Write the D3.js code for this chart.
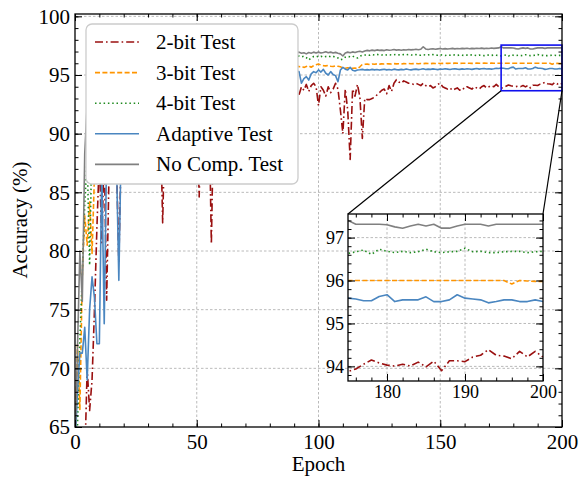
<!DOCTYPE html>
<html lang="en">
<head>
<meta charset="UTF-8">
<title>Accuracy vs Epoch</title>
<script src="https://d3js.org/d3.v7.min.js"></script>
<style>
  body { margin: 0; background: #fff; }
  svg { display: block; font-family: "Liberation Serif", "Times New Roman", serif; }
  .grid line { stroke: #a8a8a8; stroke-width: 0.8; stroke-dasharray: 2.5,2; }
</style>
</head>
<body>
<svg width="584" height="477"></svg>
<script>
// epoch index 0..200
const epochs = d3.range(0, 201);

const twoBit = [
  55.0, 56.0, 58.0, 60.0, 62.0, 70.0, 66.4, 69.0, 75.0, 82.0, 88.0, 80.7, 88.5, 75.8, 87.0, 89.0, 86.5, 88.0, 79.0, 89.0,
  90.0, 89.2, 90.5, 88.6, 90.8, 91.0, 89.9, 91.3, 90.6, 91.5, 91.0, 90.2, 91.8, 91.2, 90.7, 91.9, 82.4, 91.4, 92.0, 91.1,
  92.2, 91.6, 92.4, 91.0, 92.1, 92.6, 91.8, 92.3, 92.7, 91.9, 92.5, 84.6, 92.8, 92.0, 92.6, 92.9, 80.6, 92.3, 92.8, 93.0,
  92.5, 93.1, 92.7, 93.2, 92.4, 93.0, 93.3, 92.8, 93.1, 92.6, 93.4, 92.9, 93.2, 93.5, 92.7, 93.3, 93.0, 93.4, 92.8, 93.5,
  93.1, 93.6, 93.2, 92.9, 93.5, 93.3, 93.7, 93.0, 93.4, 93.6, 93.1, 93.2, 93.3, 94.0, 93.7, 94.2, 93.6, 94.1, 94.3, 94.0,
  92.4, 94.0, 93.7, 93.2, 94.0, 93.5, 93.8, 94.3, 93.8, 92.0, 90.0, 93.8, 92.0, 87.8, 93.8, 93.2, 94.2, 93.1, 89.6, 93.0,
  92.9, 92.9, 93.0, 93.1, 93.3, 93.5, 93.7, 93.8, 93.4, 94.1, 93.6, 94.3, 94.6, 94.4, 94.3, 94.5, 94.4, 94.3, 94.3, 94.2,
  94.3, 94.2, 94.1, 94.3, 94.1, 94.0, 94.1, 93.9, 94.0, 94.2, 94.3, 94.0, 93.9, 93.8, 93.9, 93.7, 93.8, 93.9, 93.7, 93.9,
  93.8, 94.0, 93.9, 93.8, 94.0, 93.9, 93.8, 94.0, 94.1, 93.9, 94.0, 94.1, 94.0, 94.2, 94.0, 93.88, 93.94, 94.05, 94.15, 94.08,
  94.03, 94.01, 94.05, 94.01, 94.10, 93.99, 94.12, 93.90, 94.13, 94.13, 94.11, 94.22, 94.26, 94.39, 94.26, 94.24, 94.18, 94.35, 94.22, 94.35,
  94.22
];

const threeBit = [
  63.0, 72.0, 66.5, 78.0, 83.0, 80.5, 84.2, 79.8, 86.5, 88.0, 90.0, 89.0, 91.0, 90.4, 91.8, 91.2, 92.0, 91.6, 92.3, 92.1,
  92.6, 92.4, 92.9, 92.7, 93.1, 92.8, 93.3, 93.0, 93.4, 93.2, 93.6, 93.4, 93.7, 93.5, 93.9, 93.7, 94.0, 93.8, 94.1, 93.9,
  94.2, 94.0, 94.3, 94.1, 94.4, 94.2, 94.5, 94.3, 94.6, 94.4, 94.7, 94.5, 94.7, 94.6, 94.8, 94.7, 94.9, 94.8, 95.0, 94.9,
  95.0, 95.1, 94.9, 95.2, 95.0, 95.2, 95.1, 95.3, 95.2, 95.3, 95.2, 95.4, 95.3, 95.4, 95.3, 95.5, 95.4, 95.5, 95.4, 95.6,
  95.5, 95.6, 95.5, 95.7, 95.6, 95.7, 95.6, 95.7, 95.6, 95.8, 95.7, 95.8, 95.70, 95.75, 95.65, 95.72, 95.78, 95.66, 95.80, 95.88,
  95.94, 95.85, 95.80, 95.78, 95.82, 95.75, 95.72, 95.78, 95.74, 95.70, 95.60, 95.57, 95.62, 95.57, 95.58, 95.60, 95.53, 95.70, 95.90, 95.92,
  95.93, 95.90, 95.94, 95.92, 95.95, 95.93, 95.95, 95.94, 95.96, 95.95, 95.94, 95.97, 95.95, 95.96, 95.94, 95.97, 95.96, 95.98, 95.96, 95.97,
  95.98, 95.96, 95.98, 95.97, 95.99, 95.98, 95.97, 95.99, 95.98, 96.00, 95.98, 95.99, 96.00, 95.99, 96.00, 95.99, 96.01, 96.00, 95.99, 96.00,
  96.00, 96.01, 96.00, 95.99, 96.00, 96.01, 96.00, 96.00, 96.01, 96.00, 96.00, 96.01, 96.00, 96.00, 96.00, 96.00, 96.00, 96.00, 96.00, 96.00,
  96.00, 96.00, 96.00, 96.00, 96.00, 96.00, 96.00, 96.00, 96.00, 96.00, 96.00, 96.00, 96.00, 96.00, 96.00, 96.00, 95.92, 96.00, 95.99, 95.98,
  95.98
];

const fourBit = [
  60.0, 65.0, 72.5, 78.0, 84.0, 88.0, 78.8, 90.0, 91.5, 91.0, 92.4, 92.0, 92.9, 92.6, 93.3, 93.0, 93.6, 93.4, 93.9, 93.7,
  94.1, 93.9, 94.3, 94.1, 94.5, 94.3, 94.6, 94.5, 94.8, 94.6, 94.9, 94.8, 95.0, 94.9, 95.1, 95.0, 95.2, 95.1, 95.3, 95.2,
  95.4, 95.3, 95.5, 95.4, 95.5, 95.6, 95.5, 95.7, 95.6, 95.7, 95.8, 95.7, 95.8, 95.9, 95.8, 95.9, 96.0, 95.9, 96.0, 96.1,
  96.0, 96.1, 96.0, 96.2, 96.1, 96.2, 96.1, 96.3, 96.2, 96.3, 96.2, 96.4, 96.3, 96.4, 96.3, 96.5, 96.4, 96.5, 96.4, 96.5,
  96.5, 96.6, 96.5, 96.6, 96.5, 96.6, 96.5, 96.7, 96.6, 96.6, 96.5, 96.6, 96.62, 96.55, 96.60, 96.48, 96.28, 96.45, 96.58, 96.62,
  96.55, 96.60, 96.52, 96.58, 96.62, 96.55, 96.60, 96.50, 96.45, 96.30, 96.35, 96.52, 96.58, 96.55, 96.62, 96.50, 96.45, 96.60, 96.68, 96.70,
  96.72, 96.68, 96.74, 96.70, 96.76, 96.72, 96.70, 96.75, 96.71, 96.74, 96.70, 96.73, 96.76, 96.72, 96.70, 96.74, 96.71, 96.75, 96.72, 96.70,
  96.74, 96.71, 96.68, 96.73, 96.70, 96.72, 96.69, 96.74, 96.71, 96.68, 96.72, 96.70, 96.67, 96.71, 96.69, 96.73, 96.70, 96.67, 96.71, 96.69,
  96.66, 96.70, 96.68, 96.72, 96.69, 96.66, 96.70, 96.68, 96.65, 96.69, 96.71, 96.67, 96.70, 96.68, 96.66, 96.63, 96.67, 96.71, 96.61, 96.73,
  96.68, 96.65, 96.68, 96.65, 96.67, 96.73, 96.67, 96.65, 96.67, 96.68, 96.75, 96.67, 96.68, 96.65, 96.65, 96.67, 96.68, 96.68, 96.65, 96.67,
  96.68
];

const adaptive = [
  63.0, 68.0, 71.3, 71.3, 73.5, 69.0, 75.0, 77.8, 76.0, 72.1, 72.1, 87.0, 73.8, 88.5, 90.0, 89.2, 90.5, 88.0, 77.5, 89.5,
  91.0, 90.5, 91.6, 91.2, 92.0, 91.5, 92.3, 91.9, 92.6, 92.2, 92.8, 92.5, 93.0, 92.7, 93.2, 92.9, 93.4, 93.1, 93.5, 93.3,
  93.6, 93.4, 93.8, 93.5, 93.9, 93.7, 94.0, 93.8, 94.1, 93.9, 94.2, 94.0, 94.3, 94.1, 94.4, 94.2, 94.5, 94.3, 94.5, 94.4,
  94.6, 94.4, 94.7, 94.5, 94.7, 94.6, 94.8, 94.6, 94.9, 94.7, 94.9, 94.8, 95.0, 94.8, 95.0, 94.9, 95.1, 94.9, 95.1, 95.0,
  95.1, 95.0, 95.2, 95.0, 95.2, 95.1, 95.2, 95.1, 95.3, 95.1, 95.2, 95.3, 95.29, 94.30, 94.70, 94.86, 94.57, 95.10, 95.29, 95.20,
  95.43, 95.25, 95.48, 95.15, 95.00, 95.29, 95.05, 94.95, 94.43, 95.43, 95.65, 95.50, 95.43, 95.65, 95.40, 95.35, 95.43, 95.45, 95.48, 95.43,
  95.46, 95.43, 95.48, 95.44, 95.47, 95.42, 95.46, 95.49, 95.44, 95.47, 95.43, 95.50, 95.46, 95.44, 95.48, 95.45, 95.52, 95.47, 95.44, 95.48,
  95.50, 95.46, 95.49, 95.53, 95.47, 95.50, 95.48, 95.52, 95.49, 95.46, 95.51, 95.49, 95.53, 95.50, 95.47, 95.51, 95.54, 95.50, 95.48, 95.52,
  95.49, 95.53, 95.51, 95.48, 95.52, 95.55, 95.50, 95.53, 95.56, 95.51, 95.54, 95.50, 95.53, 95.57, 95.55, 95.59, 95.57, 95.53, 95.53, 95.63,
  95.67, 95.51, 95.55, 95.55, 95.55, 95.62, 95.51, 95.51, 95.55, 95.67, 95.59, 95.57, 95.55, 95.48, 95.51, 95.55, 95.55, 95.51, 95.51, 95.55,
  95.51
];

const noComp = [
  63.0, 71.5, 80.0, 75.7, 88.3, 92.5, 94.0, 94.6, 95.0, 95.3, 95.5, 95.6, 95.7, 95.8, 95.8, 95.9, 96.0, 96.0, 96.1, 96.1,
  96.2, 96.1, 96.2, 96.3, 96.2, 96.3, 96.3, 96.4, 96.3, 96.4, 96.4, 96.5, 96.4, 96.5, 96.5, 96.5, 96.6, 96.5, 96.6, 96.6,
  96.6, 96.7, 96.6, 96.7, 96.7, 96.6, 96.7, 96.8, 96.7, 96.8, 96.7, 96.8, 96.8, 96.7, 96.8, 96.8, 96.9, 96.8, 96.9, 96.8,
  96.9, 96.8, 96.9, 96.9, 96.8, 96.9, 97.0, 96.9, 96.9, 97.0, 96.9, 97.0, 96.9, 97.0, 97.0, 96.9, 97.0, 97.0, 96.9, 97.0,
  97.0, 96.9, 97.0, 97.0, 96.9, 97.0, 97.0, 96.9, 97.0, 96.9, 96.9, 96.9, 96.95, 96.85, 96.90, 96.80, 96.92, 96.86, 96.95, 96.88,
  96.95, 96.88, 96.92, 96.98, 96.90, 96.95, 96.88, 96.93, 96.86, 96.80, 96.62, 96.88, 96.95, 96.90, 96.97, 96.92, 96.98, 97.02, 96.96, 97.05,
  97.10, 97.06, 97.12, 97.08, 97.14, 97.10, 97.12, 97.08, 97.15, 97.11, 97.13, 97.17, 97.12, 97.15, 97.11, 97.16, 97.13, 97.18, 97.14, 97.16,
  97.19, 97.15, 97.20, 97.41, 97.22, 97.18, 97.21, 97.24, 97.20, 97.23, 97.26, 97.22, 97.25, 97.21, 97.24, 97.27, 97.23, 97.26, 97.24, 97.27,
  97.25, 97.28, 97.24, 97.27, 97.25, 97.28, 97.26, 97.29, 97.25, 97.28, 97.26, 97.30, 97.27, 97.29, 97.31, 97.40, 97.31, 97.31, 97.31, 97.31,
  97.30, 97.25, 97.22, 97.27, 97.31, 97.27, 97.31, 97.22, 97.22, 97.27, 97.31, 97.31, 97.31, 97.27, 97.31, 97.31, 97.31, 97.31, 97.31, 97.31,
  97.31
];

const seriesNames = ["2-bit Test", "3-bit Test", "4-bit Test", "Adaptive Test", "No Comp. Test"];
const seriesValues = [twoBit, threeBit, fourBit, adaptive, noComp];
const seriesColors = ["#9a1010", "#ff9500", "#1f8a1f", "#4a86c0", "#808080"];
const seriesDash = ["8,3,1.6,3", "5,2.4", "1.5,2.8", null, null];

const xTicks = [0, 50, 100, 150, 200];
const yTicks = [65, 70, 75, 80, 85, 90, 95, 100];
const insetXTicks = [180, 190, 200];
const insetYTicks = [94, 95, 96, 97];

const zoomX = [175, 200];
const zoomY = [93.66, 97.55];

const svg = d3.select("svg");
const serif = '"Liberation Serif", "Times New Roman", serif';

// main axes box
const mLeft = 75, mTop = 14, mRight = 562, mBottom = 427;
const w = mRight - mLeft, h = mBottom - mTop;
const x = d3.scaleLinear().domain([0, 200]).range([0, w]);
const y = d3.scaleLinear().domain([65, 100.2]).range([h, 0]);

// inset box
const ix0 = 348, iy0 = 214, iw = 195, ih = 167;
const xi = d3.scaleLinear().domain(zoomX).range([0, iw]);
const yi = d3.scaleLinear().domain(zoomY).range([ih, 0]);

const defs = svg.append("defs");
defs.append("clipPath").attr("id", "clipMain").append("rect").attr("width", w).attr("height", h);
defs.append("clipPath").attr("id", "clipInset").append("rect").attr("width", iw).attr("height", ih);

function drawGrid(g, xs, ys, xv, yv, gw, gh) {
  const grid = g.append("g").attr("class", "grid");
  grid.selectAll(".gx").data(xv).enter().append("line")
    .attr("x1", d => xs(d)).attr("x2", d => xs(d)).attr("y1", 0).attr("y2", gh);
  grid.selectAll(".gy").data(yv).enter().append("line")
    .attr("x1", 0).attr("x2", gw).attr("y1", d => ys(d)).attr("y2", d => ys(d));
}

function styleAxis(a, fontSize) {
  a.attr("font-family", null).attr("font-size", null);
  a.select(".domain").remove();
  a.selectAll("line").attr("stroke", "#000").attr("stroke-width", 1);
  a.selectAll("text").attr("fill", "#000").style("font-family", serif).style("font-size", fontSize + "px");
}

function drawAxes(g, xs, ys, gw, gh, xMaj, xMin, yMaj, yMin, fontSize, pad, majLen, minLen) {
  const sides = [
    [d3.axisBottom, xs, `translate(0,${gh})`, true],
    [d3.axisTop, xs, "translate(0,0)", false],
    [d3.axisLeft, ys, "translate(0,0)", true],
    [d3.axisRight, ys, `translate(${gw},0)`, false]
  ];
  sides.forEach(([fn, sc, tr, labelled]) => {
    const isX = sc === xs;
    const maj = isX ? xMaj : yMaj, mn = isX ? xMin : yMin;
    const minor = g.append("g").attr("transform", tr)
      .call(fn(sc).tickValues(mn).tickSizeInner(-minLen).tickSizeOuter(0).tickFormat(""));
    styleAxis(minor, fontSize);
    const major = g.append("g").attr("transform", tr)
      .call(fn(sc).tickValues(maj).tickSizeInner(-majLen).tickSizeOuter(0)
        .tickPadding(isX ? pad[0] : pad[1]).tickFormat(labelled ? d3.format("d") : ""));
    styleAxis(major, fontSize);
  });
  g.append("rect").attr("width", gw).attr("height", gh)
    .attr("fill", "none").attr("stroke", "#000").attr("stroke-width", 1.3);
}

// ---- main chart ----
const main = svg.append("g").attr("transform", `translate(${mLeft},${mTop})`);
drawGrid(main, x, y, [50, 100, 150], [70, 75, 80, 85, 90, 95, 100], w, h);

const line = d3.line().x((d, i) => x(epochs[i])).y(d => y(d));
const plot = main.append("g").attr("clip-path", "url(#clipMain)");
seriesValues.forEach((vals, k) => {
  plot.append("path").datum(vals)
    .attr("d", line)
    .attr("fill", "none")
    .attr("stroke", seriesColors[k])
    .attr("stroke-width", 1.6)
    .attr("stroke-linejoin", "round")
    .attr("stroke-dasharray", seriesDash[k]);
});

// legend
const legend = main.append("g").attr("transform", `translate(${86 - mLeft},${24 - mTop})`);
legend.append("rect").attr("width", 212).attr("height", 160).attr("rx", 6)
  .attr("fill", "#fff").attr("stroke", "#cccccc").attr("stroke-width", 1.3);
seriesNames.forEach((name, k) => {
  const ly = 18 + k * 30.6;
  legend.append("line").attr("x1", 9).attr("x2", 53).attr("y1", ly).attr("y2", ly)
    .attr("stroke", seriesColors[k]).attr("stroke-width", 1.6)
    .attr("stroke-dasharray", seriesDash[k]);
  legend.append("text").attr("x", 70).attr("y", ly).attr("dy", "0.33em")
    .style("font-family", serif).style("font-size", "21px").text(name);
});

// zoom indicator rectangle and connectors
const rx0 = x(zoomX[0]), rx1 = x(zoomX[1]), ry0 = y(zoomY[1]), ry1 = y(zoomY[0]);
main.append("rect").attr("x", rx0).attr("y", ry0)
  .attr("width", rx1 - rx0).attr("height", ry1 - ry0)
  .attr("fill", "none").attr("stroke", "#1010ee").attr("stroke-width", 1.6);
main.append("line").attr("x1", rx0).attr("y1", ry1).attr("x2", ix0 - mLeft).attr("y2", iy0 - mTop)
  .attr("stroke", "#000").attr("stroke-width", 1.2);
main.append("line").attr("x1", rx1).attr("y1", ry1).attr("x2", ix0 + iw - mLeft).attr("y2", iy0 - mTop)
  .attr("stroke", "#000").attr("stroke-width", 1.2);

drawAxes(main, x, y, w, h, xTicks, d3.range(0, 201, 10), yTicks, d3.range(65, 100.5, 1),
  21, [7, 5], 7, 3.5);

main.append("text").attr("x", w / 2).attr("y", 471 - mTop).attr("text-anchor", "middle")
  .style("font-family", serif).style("font-size", "21px").text("Epoch");
svg.append("text").attr("transform", "translate(27,220) rotate(-90)").attr("text-anchor", "middle")
  .style("font-family", serif).style("font-size", "21px").text("Accuracy (%)");

// ---- inset ----
const inset = svg.append("g").attr("transform", `translate(${ix0},${iy0})`);
drawGrid(inset, xi, yi, [180, 190], insetYTicks, iw, ih);
const iline = d3.line().x(d => xi(d[0])).y(d => yi(d[1]));
const iplot = inset.append("g").attr("clip-path", "url(#clipInset)");
seriesValues.forEach((vals, k) => {
  const pts = epochs.map((e, i) => [e, vals[i]]).filter(p => p[0] >= 174);
  iplot.append("path").datum(pts)
    .attr("d", iline)
    .attr("fill", "none")
    .attr("stroke", seriesColors[k])
    .attr("stroke-width", 1.6)
    .attr("stroke-linejoin", "round")
    .attr("stroke-dasharray", seriesDash[k]);
});
drawAxes(inset, xi, yi, iw, ih, insetXTicks, d3.range(176, 201, 2), insetYTicks, d3.range(93.8, 97.5, 0.2),
  18, [4, 4], 7, 3.5);
</script>
</body>
</html>
